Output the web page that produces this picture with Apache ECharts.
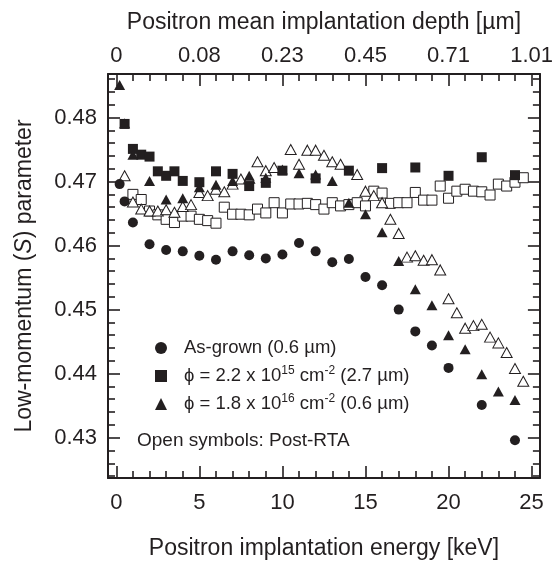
<!DOCTYPE html>
<html><head><meta charset="utf-8">
<script src="https://cdn.jsdelivr.net/npm/echarts@6/dist/echarts.min.js"></script>
<style>html,body{margin:0;padding:0;background:#fff}#c{width:556px;height:565px}</style>
</head><body><div id="c"></div>
<script>
// ---- data ----
const energyAsGrown = [0.2, 0.5, 1, 2, 3, 4, 5, 6, 7, 8, 9, 10, 11, 12, 13, 14, 15, 16, 17, 18, 19, 20, 22, 24];
const sAsGrown = [0.4696, 0.4669, 0.4636, 0.4602, 0.4593, 0.4591, 0.4584, 0.4578, 0.4591, 0.4585, 0.4580, 0.4586, 0.4604, 0.4591, 0.4574, 0.4579, 0.4551, 0.4538, 0.4500, 0.4466, 0.4444, 0.4409, 0.4351, 0.4296];

const energyImpl15 = [0.5, 1, 1.5, 2, 2.5, 3, 3.5, 4, 5, 6, 7, 8, 9, 10, 12, 14, 16, 18, 20, 22, 24];
const sImpl15 = [0.4790, 0.4751, 0.4742, 0.4739, 0.4716, 0.4709, 0.4716, 0.4701, 0.4699, 0.4716, 0.4712, 0.4693, 0.4698, 0.4717, 0.4705, 0.4717, 0.4721, 0.4722, 0.4709, 0.4738, 0.4710];

const energyImpl16 = [0.2, 0.5, 1, 2, 3, 4, 5, 6, 7, 8, 9, 10, 11, 12, 13, 14, 15, 16, 17, 18, 19, 20, 21, 22, 23, 24];
const sImpl16 = [0.4851, 0.4791, 0.4742, 0.4701, 0.4672, 0.4674, 0.4691, 0.4695, 0.4701, 0.4709, 0.4706, 0.4719, 0.4713, 0.4711, 0.4701, 0.4667, 0.4649, 0.4621, 0.4576, 0.4532, 0.4507, 0.4460, 0.4438, 0.4399, 0.4372, 0.4359];

const energyRta15 = [1, 1.5, 2, 2.5, 3, 3.5, 4, 4.5, 5, 5.5, 6, 6.5, 7, 7.5, 8, 8.5, 9, 9.5, 10, 10.5, 11, 11.5, 12, 12.5, 13, 13.5, 14, 14.5, 15, 15.5, 16, 16.5, 17, 17.5, 18, 18.5, 19, 19.5, 20, 20.5, 21, 21.5, 22, 22.5, 23, 23.5, 24, 24.5];
const sRta15 = [0.4680, 0.4672, 0.4654, 0.4648, 0.4641, 0.4636, 0.4646, 0.4646, 0.4641, 0.4639, 0.4635, 0.4660, 0.4649, 0.4649, 0.4648, 0.4657, 0.4651, 0.4667, 0.4651, 0.4665, 0.4665, 0.4666, 0.4664, 0.4657, 0.4667, 0.4662, 0.4664, 0.4667, 0.4662, 0.4685, 0.4682, 0.4666, 0.4667, 0.4667, 0.4683, 0.4671, 0.4671, 0.4693, 0.4674, 0.4685, 0.4688, 0.4685, 0.4684, 0.4679, 0.4696, 0.4693, 0.4699, 0.4706];

const energyRta16 = [0.5, 1, 1.5, 2, 2.5, 3, 3.5, 4, 4.5, 5, 5.5, 6, 6.5, 7, 7.5, 8, 8.5, 9, 9.5, 10.5, 11, 11.5, 12, 12.5, 13, 13.5, 14.5, 15, 15.5, 16, 16.5, 17, 17.5, 18, 18.5, 19, 19.5, 20, 20.5, 21, 21.5, 22, 22.5, 23, 23.5, 24, 24.5];
const sRta16 = [0.4709, 0.4668, 0.4657, 0.4654, 0.4654, 0.4656, 0.4652, 0.4661, 0.4664, 0.4683, 0.4678, 0.4688, 0.4684, 0.4696, 0.4704, 0.4705, 0.4731, 0.4717, 0.4722, 0.4750, 0.4727, 0.4749, 0.4749, 0.4741, 0.4731, 0.4727, 0.4711, 0.4685, 0.4678, 0.4667, 0.4641, 0.4619, 0.4582, 0.4584, 0.4577, 0.4578, 0.4562, 0.4517, 0.4495, 0.4471, 0.4475, 0.4477, 0.4457, 0.4448, 0.4433, 0.4408, 0.4388];

const energyTickLabels = [0, 5, 10, 15, 20, 25];
const depthTickLabels = ['0', '0.08', '0.23', '0.45', '0.71', '1.01'];
const sTickLabels = [0.43, 0.44, 0.45, 0.46, 0.47, 0.48];

const nameAsGrown = 'As-grown (0.6 \u00b5m)';
const nameImpl15 = '\u03d5 = 2.2 x 10^15 cm^-2 (2.7 \u00b5m)';
const nameImpl16 = '\u03d5 = 1.8 x 10^16 cm^-2 (0.6 \u00b5m)';
const legendRich = {};
legendRich[nameAsGrown] = 'As-grown (0.6 \u00b5m)';
legendRich[nameImpl15] = '\u03d5 = 2.2 x 10{sup|15} cm{sup|-2} (2.7 \u00b5m)';
legendRich[nameImpl16] = '\u03d5 = 1.8 x 10{sup|16} cm{sup|-2} (0.6 \u00b5m)';

// ---- helpers ----
const zip = (xs, ys) => xs.map((x, i) => [x, ys[i]]);
const energyMinorTicks = [];
for (let i = 0; i <= 25; i++) if (i % 5 !== 0) energyMinorTicks.push(i);
const sMinorTicks = [];
for (let k = 212; k <= 243; k++) if (k % 5 !== 0) sMinorTicks.push(+(k * 0.002).toFixed(3));

const INK = '#231f20';
const FONT = "'Liberation Sans', Arial, Helvetica, sans-serif";
const X_MIN = -0.5, X_MAX = 25.5, Y_MIN = 0.4237, Y_MAX = 0.4868;

function xAx(pos, major, extra) {
  return Object.assign({
    type: 'value', position: pos, min: X_MIN, max: X_MAX, gridIndex: 0,
    splitLine: { show: false },
    axisLine: { show: major, onZero: false, lineStyle: { color: INK, width: 2 } },
    axisTick: { show: true, inside: true, length: major ? 12 : 7,
      customValues: major ? energyTickLabels : energyMinorTicks,
      lineStyle: { color: INK, width: 1.6 } },
    axisLabel: { show: false }
  }, extra || {});
}
function yAx(pos, major, extra) {
  return Object.assign({
    type: 'value', position: pos, min: Y_MIN, max: Y_MAX, gridIndex: 0,
    splitLine: { show: false },
    axisLine: { show: major, onZero: false, lineStyle: { color: INK, width: 2 } },
    axisTick: { show: true, inside: true, length: major ? 12 : 7,
      customValues: major ? sTickLabels : sMinorTicks,
      lineStyle: { color: INK, width: 1.6 } },
    axisLabel: { show: false }
  }, extra || {});
}

const labelStyle = { color: INK, fontSize: 22, fontFamily: FONT };
const nameStyle = { color: INK, fontSize: 23, fontFamily: FONT };
const openStyle = { color: '#fff', borderColor: INK, borderWidth: 1, opacity: 1 };
const filledStyle = { color: INK, opacity: 1 };

const chart = echarts.init(document.getElementById('c'), null, { renderer: 'canvas' });
chart.setOption({
  backgroundColor: '#fff',
  animation: false,
  grid: { left: 108, right: 15, top: 74, bottom: 85, show: false },
  xAxis: [
    xAx('bottom', true, {
      axisLabel: Object.assign({ show: true, customValues: energyTickLabels, margin: 14,
        formatter: v => String(Math.round(v)) }, labelStyle),
      name: 'Positron implantation energy [keV]', nameLocation: 'middle', nameGap: 59,
      nameTextStyle: nameStyle
    }),
    xAx('bottom', false),
    xAx('top', true, {
      axisLabel: Object.assign({ show: true, customValues: energyTickLabels, margin: 7,
        formatter: v => depthTickLabels[energyTickLabels.indexOf(Math.round(v))] }, labelStyle),
      name: 'Positron mean implantation depth [\u00b5m]', nameLocation: 'middle', nameGap: 40,
      nameTextStyle: nameStyle
    }),
    xAx('top', false)
  ],
  yAxis: [
    yAx('left', true, {
      axisLabel: Object.assign({ show: true, customValues: sTickLabels, margin: 11,
        formatter: v => v.toFixed(2) }, labelStyle),
      name: 'Low-momentum ({i|S}) parameter', nameLocation: 'middle', nameGap: 72, nameRotate: 90,
      nameTextStyle: Object.assign({ rich: { i: { fontStyle: 'italic', fontSize: 23, fontFamily: FONT, color: INK } } }, nameStyle)
    }),
    yAx('left', false),
    yAx('right', true),
    yAx('right', false)
  ],
  legend: {
    data: [{ name: nameAsGrown, icon: 'circle' }, { name: nameImpl15, icon: 'rect' }, { name: nameImpl16, icon: 'triangle' }],
    orient: 'vertical', left: 150, top: 332, itemWidth: 12, itemHeight: 12, itemGap: 6,
    selectedMode: false,
    formatter: n => legendRich[n],
    itemStyle: { opacity: 1 },
    textStyle: {
      color: INK, fontSize: 18.5, fontFamily: FONT, lineHeight: 22, padding: [0, 0, 0, 12],
      rich: { sup: { fontSize: 12, lineHeight: 12, verticalAlign: 'top', fontFamily: FONT, color: INK } }
    }
  },
  graphic: [{
    type: 'text', left: 137, top: 431,
    style: { text: 'Open symbols: Post-RTA', fill: INK, fontSize: 19, fontFamily: FONT }
  }],
  series: [
    { name: 'Post-RTA 2.2e15', type: 'scatter', data: zip(energyRta15, sRta15), symbol: 'rect', symbolSize: 10,
      itemStyle: openStyle },
    { name: 'Post-RTA 1.8e16', type: 'scatter', data: zip(energyRta16, sRta16), symbol: 'triangle', symbolSize: [11, 10],
      itemStyle: openStyle },
    { name: nameAsGrown, type: 'scatter', data: zip(energyAsGrown, sAsGrown), symbol: 'circle', symbolSize: 10,
      itemStyle: filledStyle },
    { name: nameImpl15, type: 'scatter', data: zip(energyImpl15, sImpl15), symbol: 'rect', symbolSize: 10,
      itemStyle: filledStyle },
    { name: nameImpl16, type: 'scatter', data: zip(energyImpl16, sImpl16), symbol: 'triangle', symbolSize: [11, 10],
      itemStyle: filledStyle }
  ]
});
</script></body></html>
